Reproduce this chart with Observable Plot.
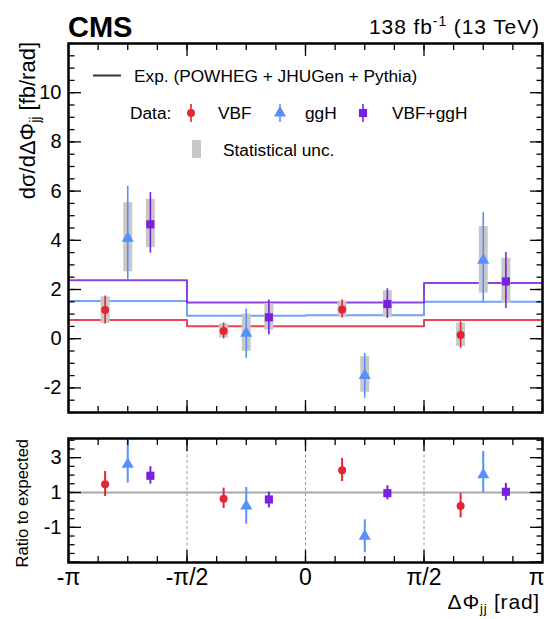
<!DOCTYPE html>
<html><head><meta charset="utf-8">
<script src="https://cdn.jsdelivr.net/npm/d3@7"></script>
<script src="https://cdn.jsdelivr.net/npm/@observablehq/plot@0.6"></script>
<style>
body{margin:0;background:#fff;}
#wrap{position:relative;width:544px;height:619px;overflow:hidden;font-family:"Liberation Sans",Arial,Helvetica,sans-serif;}
#wrap > svg{position:absolute;left:0;}
</style></head><body><div id="wrap"></div>
<script>
const PI = Math.PI;
const binEdges = [-PI, -PI/2, 0, PI/2, PI];
const xTickLabels = ["-π", "-π/2", "0", "π/2", "π"];
const processes = ["VBF", "ggH", "VBF+ggH"];

// Main panel: dσ/dΔΦjj [fb/rad], per bin (4 bins)
const vbfVal    = [1.17, 0.31, 1.19, 0.15];
const vbfLo     = [0.60, -0.01, 0.84, -0.39];
const vbfHi     = [1.74, 0.64, 1.57, 0.69];
const vbfStatLo = [0.62, 0.03, 0.87, -0.32];
const vbfStatHi = [1.70, 0.60, 1.53, 0.64];

const gghVal    = [4.08, 0.22, -1.50, 3.19];
const gghLo     = [2.38, -0.80, -2.42, 1.50];
const gghHi     = [6.20, 1.20, -0.60, 5.12];
const gghStatLo = [2.72, -0.51, -2.18, 1.85];
const gghStatHi = [5.53, 1.00, -0.73, 4.56];

const sumVal    = [4.65, 0.87, 1.41, 2.33];
const sumLo     = [3.48, 0.15, 0.82, 1.23];
const sumHi     = [5.94, 1.57, 2.03, 3.50];
const sumStatLo = [3.70, 0.35, 0.87, 1.43];
const sumStatHi = [5.67, 1.43, 1.95, 3.27];

// Expected (POWHEG + JHUGen + Pythia)
const expVBF = [0.76, 0.51, 0.51, 0.76];
const expGGH = [1.53, 0.93, 0.95, 1.50];
const expSum = [2.38, 1.47, 1.47, 2.26];

// Ratio to expected
const rVbfVal = [1.48, 0.64, 2.27, 0.22];
const rVbfLo  = [0.77, 0.08, 1.63, -0.46];
const rVbfHi  = [2.21, 1.25, 2.96, 0.94];
const rGghVal = [2.62, 0.22, -1.51, 2.02];
const rGghLo  = [1.54, -0.82, -2.46, 1.00];
const rGghHi  = [4.00, 1.29, -0.57, 3.36];
const rSumVal = [1.96, 0.60, 0.96, 1.04];
const rSumLo  = [1.48, 0.12, 0.58, 0.52];
const rSumHi  = [2.48, 1.02, 1.39, 1.52];

// styling
const colors = {"VBF": "#e42536", "ggH": "#5790fc", "VBF+ggH": "#7a21dd"};
const symbols = {"VBF": "circle", "ggH": "triangle", "VBF+ggH": "square"};
const radii = {"VBF": 4, "ggH": 4.5, "VBF+ggH": 4.6};
const offsets = {"VBF": -0.3, "ggH": 0, "VBF+ggH": 0.3};
const FONT = "Liberation Sans, Arial, Helvetica, sans-serif";

const centers = binEdges.slice(0, -1).map((e, i) => (e + binEdges[i + 1]) / 2);

function rows(proc, val, lo, hi, slo, shi) {
  return val.map((v, i) => ({proc, x: centers[i] + offsets[proc], val: v, lo: lo[i], hi: hi[i],
    slo: slo ? slo[i] : null, shi: shi ? shi[i] : null}));
}
const mainData = [
  ...rows("VBF", vbfVal, vbfLo, vbfHi, vbfStatLo, vbfStatHi),
  ...rows("ggH", gghVal, gghLo, gghHi, gghStatLo, gghStatHi),
  ...rows("VBF+ggH", sumVal, sumLo, sumHi, sumStatLo, sumStatHi)
];
const ratioData = [
  ...rows("VBF", rVbfVal, rVbfLo, rVbfHi),
  ...rows("ggH", rGghVal, rGghLo, rGghHi),
  ...rows("VBF+ggH", rSumVal, rSumLo, rSumHi)
];
function steps(proc, vals) {
  const s = vals.map((v, i) => ({proc, x: binEdges[i], y: v}));
  s.push({proc, x: binEdges[binEdges.length - 1], y: vals[vals.length - 1]});
  return s;
}
const expData = [...steps("VBF", expVBF), ...steps("ggH", expGGH), ...steps("VBF+ggH", expSum)];

const xMinor = d3.range(-8, 9).map(k => k * PI / 8);

function frameTicks(yMajor, yMinor) {
  const common = {tickFormat: () => "", label: null, strokeWidth: 1.3};
  return [
    Plot.axisX({anchor: "bottom", ticks: xMinor, tickSize: -6, ...common}),
    Plot.axisX({anchor: "bottom", ticks: binEdges, tickSize: -12, ...common}),
    Plot.axisX({anchor: "top", ticks: xMinor, tickSize: -6, ...common}),
    Plot.axisX({anchor: "top", ticks: binEdges, tickSize: -12, ...common}),
    Plot.axisY({anchor: "left", ticks: yMinor, tickSize: -6.5, ...common}),
    Plot.axisY({anchor: "left", ticks: yMajor, tickSize: -13, ...common}),
    Plot.axisY({anchor: "right", ticks: yMinor, tickSize: -6.5, ...common}),
    Plot.axisY({anchor: "right", ticks: yMajor, tickSize: -13, ...common})
  ];
}
function pointMarks(data, errWidth) {
  const m = [];
  m.push(Plot.ruleX(data, {x: "x", y1: "lo", y2: "hi", stroke: d => colors[d.proc], strokeWidth: errWidth}));
  for (const p of processes) {
    m.push(Plot.dot(data.filter(d => d.proc === p), {x: "x", y: "val", symbol: symbols[p], r: radii[p], fill: colors[p], stroke: "none"}));
  }
  return m;
}
const xLabel = d => xTickLabels[d3.minIndex(binEdges, e => Math.abs(e - d))];

const wrap = document.getElementById("wrap");

// ---------- main panel ----------
const mainMajor = d3.range(-2, 11, 2);
const main = Plot.plot({
  width: 544, height: 420,
  marginLeft: 68, marginRight: 2, marginTop: 43, marginBottom: 8,
  x: {domain: [-PI, PI]},
  y: {domain: [-3, 12]},
  color: {type: "identity"},
  style: {fontFamily: FONT, background: "transparent", overflow: "visible"},
  marks: [
    ...processes.map(p => Plot.line(expData.filter(d => d.proc === p), {x: "x", y: "y", curve: "step-after", stroke: colors[p], strokeWidth: 2, strokeOpacity: 0.85})),
    Plot.ruleX(mainData, {x: "x", y1: "slo", y2: "shi", stroke: "#c8c8c8", strokeWidth: 9}),
    ...pointMarks(mainData, 1.6),
    ...frameTicks(mainMajor, d3.range(-3, 12.01, 0.5)),
    Plot.axisY({anchor: "left", ticks: mainMajor, tickSize: 0, tickPadding: 7, tickFormat: d => String(d), fontSize: 20, label: null}),
    Plot.frame({stroke: "black", strokeWidth: 2.5})
  ]
});
main.style.top = "0px";
wrap.appendChild(main);

// ---------- ratio panel ----------
const ratio = Plot.plot({
  width: 544, height: 199,
  marginLeft: 68, marginRight: 2, marginTop: 18, marginBottom: 57,
  x: {domain: [-PI, PI]},
  y: {domain: [-3.02, 4.1]},
  color: {type: "identity"},
  style: {fontFamily: FONT, background: "transparent", overflow: "visible"},
  marks: [
    Plot.ruleX(binEdges.slice(1, -1), {stroke: "#9a9a9a", strokeWidth: 1, strokeDasharray: "3,2.5"}),
    Plot.ruleY([1], {stroke: "#a8a8a8", strokeWidth: 2}),
    ...pointMarks(ratioData, 2),
    ...frameTicks([-3, -1, 1, 3], d3.range(-3, 4.01, 0.5)),
    Plot.axisY({anchor: "left", ticks: [-1, 1, 3], tickSize: 0, tickPadding: 7, tickFormat: d => String(d), fontSize: 20, label: null}),
    Plot.axisX({anchor: "bottom", ticks: binEdges.slice(0, -1), tickSize: 0, tickPadding: 6,
      tickFormat: xLabel, fontSize: 23, label: null}),
    Plot.axisX({anchor: "bottom", ticks: binEdges.slice(-1), tickSize: 0, tickPadding: 6, textAnchor: "end", dx: 2,
      tickFormat: xLabel, fontSize: 23, label: null}),
    Plot.frame({stroke: "black", strokeWidth: 2.5})
  ]
});
ratio.style.top = "420px";
wrap.appendChild(ratio);

// ---------- overlay texts & legend ----------
const ov = d3.select(wrap).append("svg")
  .attr("width", 544).attr("height", 619)
  .style("top", "0px").style("font-family", FONT);

ov.append("text").attr("x", 68).attr("y", 36.5).attr("font-size", 29).attr("font-weight", "bold").text("CMS");
const lumi = ov.append("text").attr("x", 540).attr("y", 33.5).attr("font-size", 21).attr("letter-spacing", 0.9).attr("text-anchor", "end");
lumi.append("tspan").text("138 fb");
lumi.append("tspan").attr("font-size", 14).attr("dy", -8).text("-1");
lumi.append("tspan").attr("dy", 8).text(" (13 TeV)");

const yl = ov.append("text").attr("transform", "translate(35,42) rotate(-90)").attr("text-anchor", "end").attr("font-size", 22);
yl.append("tspan").text("dσ/dΔΦ");
yl.append("tspan").attr("font-size", 14).attr("dy", 5).text("jj");
yl.append("tspan").attr("dy", -5).text(" [fb/rad]");

ov.append("text").attr("transform", "translate(28,439) rotate(-90)").attr("text-anchor", "end").attr("font-size", 16.5).text("Ratio to expected");

const xl = ov.append("text").attr("x", 540).attr("y", 609).attr("text-anchor", "end").attr("font-size", 21).attr("letter-spacing", 0.8);
xl.append("tspan").text("ΔΦ");
xl.append("tspan").attr("font-size", 13).attr("dy", 4).text("jj");
xl.append("tspan").attr("dy", -4).text(" [rad]");

// legend
const lg = ov.append("g").attr("font-size", 17.3);
lg.append("line").attr("x1", 93).attr("x2", 121).attr("y1", 75.5).attr("y2", 75.5).attr("stroke", "#333").attr("stroke-width", 2);
lg.append("text").attr("x", 134).attr("y", 82).text("Exp. (POWHEG + JHUGen + Pythia)");
lg.append("text").attr("x", 130).attr("y", 119).text("Data:");
const legItems = [["VBF", 191, 218], ["ggH", 280, 305], ["VBF+ggH", 363, 392]];
for (const [p, mx, tx] of legItems) {
  lg.append("line").attr("x1", mx).attr("x2", mx).attr("y1", 104).attr("y2", 122).attr("stroke", colors[p]).attr("stroke-width", 1.6);
  lg.append("path").attr("transform", `translate(${mx},113)`)
    .attr("d", d3.symbol(p === "VBF" ? d3.symbolCircle : p === "ggH" ? d3.symbolTriangle : d3.symbolSquare, Math.PI * radii[p] ** 2)())
    .attr("fill", colors[p]);
  lg.append("text").attr("x", tx).attr("y", 119).text(p);
}
lg.append("rect").attr("x", 192).attr("y", 140).attr("width", 9).attr("height", 18).attr("fill", "#c8c8c8");
lg.append("text").attr("x", 223).attr("y", 155.5).text("Statistical unc.");
</script></body></html>
